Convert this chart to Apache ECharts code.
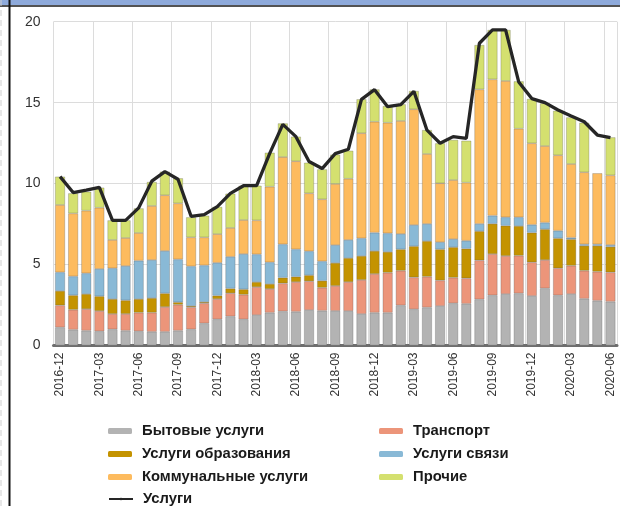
<!DOCTYPE html>
<html>
<head>
<meta charset="utf-8">
<script src="https://cdn.jsdelivr.net/npm/echarts@6/dist/echarts.min.js"></script>
<style>
html,body{margin:0;padding:0;background:#fff;}
#c{width:620px;height:506px;}
</style>
</head>
<body>
<div id="c"></div>
<script>
const months = ["2016-12","2017-01","2017-02","2017-03","2017-04","2017-05","2017-06","2017-07","2017-08","2017-09","2017-10","2017-11","2017-12",
"2018-01","2018-02","2018-03","2018-04","2018-05","2018-06","2018-07","2018-08","2018-09","2018-10","2018-11","2018-12",
"2019-01","2019-02","2019-03","2019-04","2019-05","2019-06","2019-07","2019-08","2019-09","2019-10","2019-11","2019-12",
"2020-01","2020-02","2020-03","2020-04","2020-05","2020-06"];

const household = [1.12,0.98,0.92,0.88,1.00,0.92,0.88,0.85,0.85,0.92,1.00,1.37,1.62,1.80,1.62,1.88,2.03,2.11,2.09,2.19,2.15,2.14,2.13,1.95,2.03,2.03,2.48,2.24,2.35,2.44,2.61,2.58,2.85,3.10,3.18,3.22,3.06,3.53,3.10,3.18,2.89,2.77,2.71];
const transport = [1.36,1.23,1.33,1.25,0.95,1.03,1.15,1.18,1.53,1.60,1.36,1.24,1.25,1.43,1.52,1.73,1.46,1.73,1.83,1.78,1.42,1.54,1.79,2.10,2.39,2.47,2.14,1.97,1.90,1.58,1.58,1.57,2.41,2.55,2.35,2.33,2.08,1.75,1.67,1.75,1.73,1.79,1.81];
const education = [0.89,0.89,0.93,0.91,0.92,0.84,0.84,0.90,0.84,0.15,0.08,0.08,0.21,0.29,0.33,0.31,0.31,0.35,0.33,0.37,0.43,1.42,1.48,1.48,1.42,1.28,1.32,1.92,2.20,1.92,1.88,1.83,1.80,1.87,1.87,1.83,1.83,1.90,1.85,1.63,1.54,1.60,1.58];
const telecom = [1.15,1.17,1.28,1.69,1.90,2.12,2.37,2.35,2.62,2.65,2.45,2.26,2.03,1.96,2.18,1.71,1.34,2.06,1.69,1.48,1.20,1.10,1.12,1.09,1.13,1.15,0.95,1.31,1.06,0.44,0.50,0.49,0.45,0.50,0.52,0.54,0.49,0.41,0.47,0.10,0.09,0.09,0.11];
const utilities = [4.16,3.89,3.87,3.78,1.75,1.73,1.71,3.34,3.44,3.46,1.79,1.73,1.77,1.78,2.10,2.10,4.67,5.39,5.44,3.58,3.83,3.78,3.78,6.49,6.85,6.83,6.98,7.15,4.32,3.64,3.65,3.59,8.31,8.42,8.42,5.47,5.03,4.73,4.66,4.55,4.45,4.39,4.30];
const other = [1.75,1.24,1.17,1.24,1.21,1.09,1.52,1.48,1.46,1.55,1.24,1.34,1.68,2.12,2.12,2.14,2.10,2.08,1.52,1.89,1.85,1.81,1.73,2.10,2.00,1.03,1.03,1.13,1.48,2.47,2.48,2.59,2.74,3.05,3.15,2.93,2.74,2.64,2.75,2.88,3.06,null,2.35];
const services = [10.43,9.45,9.60,9.77,7.73,7.73,8.50,10.15,10.74,10.27,7.98,8.08,8.58,9.40,9.87,9.87,11.87,13.66,12.90,11.36,10.93,11.85,12.12,15.20,15.80,14.75,14.88,15.70,13.30,12.49,12.90,12.80,18.67,19.49,19.49,16.28,15.25,15.00,14.55,14.18,13.82,13.00,12.84];

const yTicks = [0,5,10,15,20];

const names = ["Бытовые услуги","Транспорт","Услуги образования","Услуги связи","Коммунальные услуги","Прочие","Услуги"];
const colors = ["#b3b3b3","#ec957a","#c49300","#89b9d6","#fdbb5e","#d4e06f","#262626"];
const barData = [household, transport, education, telecom, utilities, other];

const font = "'Liberation Sans', Arial, sans-serif";
const chart = echarts.init(document.getElementById('c'), null, {renderer:'canvas'});

const series = barData.map((d,i)=>({
  name: names[i], type:'bar', stack:'s', data: d,
  barCategoryGap:'24%',
  itemStyle:{color:colors[i], borderColor:'rgba(80,80,80,0.45)', borderWidth:0.6},
  emphasis:{disabled:true}
}));
series.push({
  name: names[6], type:'line', data: services, symbol:'none', z:5,
  lineStyle:{color:colors[6], width:3.3}, itemStyle:{color:colors[6]}
});

const legendCommon = {
  orient:'vertical', padding:0, itemWidth:24, itemHeight:6, itemGap:7,
  itemStyle:{borderWidth:0},
  textStyle:{fontFamily:font, fontSize:14.8, fontWeight:'bold', color:'#1a1a1a', lineHeight:16, padding:[0,0,0,5]},
  selectedMode:false
};

chart.setOption({
  animation:false,
  backgroundColor:'#ffffff',
  grid:{left:53.5, right:3, top:21.7, bottom:160.5, containLabel:false},
  xAxis:{
    type:'category', data: months, boundaryGap:true,
    axisLine:{show:true, lineStyle:{color:'#6e6e6e', width:3}},
    axisTick:{show:false},
    axisLabel:{interval:2, rotate:90, fontFamily:font, fontSize:12, color:'#333', margin:7},
    splitLine:{show:true, interval:2, lineStyle:{color:'#dcdcdc', width:1}}
  },
  yAxis:{
    type:'value', min:yTicks[0], max:yTicks[yTicks.length-1], interval:5,
    axisLine:{show:false}, axisTick:{show:false},
    axisLabel:{fontFamily:font, fontSize:14, color:'#333', margin:13},
    splitLine:{lineStyle:{color:'#dcdcdc', width:1}}
  },
  legend:[
    Object.assign({left:108, top:423, data:[names[0],names[2],names[4]]}, legendCommon),
    Object.assign({left:379, top:423, data:[names[1],names[3],names[5]]}, legendCommon),
    Object.assign({left:108, top:491, data:[names[6]]}, legendCommon, {itemHeight:3.3})
  ],
  graphic:[
    {type:'rect', shape:{x:0,y:0,width:620,height:5}, style:{fill:'#8eaadb'}, z:100},
    {type:'line', shape:{x1:0,y1:6,x2:620,y2:6}, style:{stroke:'#1a1a1a', lineWidth:1.5}, z:100},
    {type:'line', shape:{x1:9.5,y1:0,x2:9.5,y2:506}, style:{stroke:'#111', lineWidth:2}, z:100},
    {type:'line', shape:{x1:1,y1:0,x2:1,y2:506}, style:{stroke:'#cfcfcf', lineWidth:1, lineDash:[6,4]}, z:100}
  ],
  series: series
});
</script>
</body>
</html>
